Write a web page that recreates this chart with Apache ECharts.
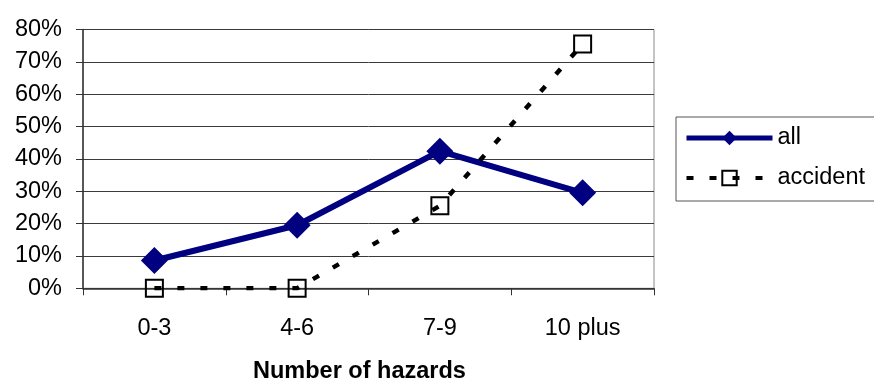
<!DOCTYPE html>
<html>
<head>
<meta charset="utf-8">
<script src="https://cdn.jsdelivr.net/npm/echarts@6/dist/echarts.min.js"></script>
<style>
  html, body { margin: 0; padding: 0; background: #fff; }
  #chart { width: 874px; height: 383px; }
</style>
</head>
<body>
<div id="chart"></div>
<script>
// Share of cases by number of hazards
const categories = ['0-3', '4-6', '7-9', '10 plus'];
const allValues = [0.086, 0.195, 0.424, 0.295];
const accidentValues = [0.0, 0.0, 0.255, 0.755];
const yTicks = [0, 0.1, 0.2, 0.3, 0.4, 0.5, 0.6, 0.7, 0.8];
const xTitle = 'Number of hazards';

const FONT = '"Liberation Sans", Arial, sans-serif';
const FS = 23.5;
const chart = echarts.init(document.getElementById('chart'));

chart.setOption({
  animation: false,
  backgroundColor: '#fff',
  textStyle: { fontFamily: FONT },
  grid: {
    left: 83, right: 220, top: 29.5, bottom: 94.7,
    show: true, borderColor: '#8a8a8a', borderWidth: 1, backgroundColor: 'transparent'
  },
  legend: {
    orient: 'vertical',
    left: 676, top: 117,
    padding: [9, 60, 11, 8],
    itemGap: 16,
    itemWidth: 86,
    itemHeight: 18,
    borderColor: '#555', borderWidth: 1,
    backgroundColor: '#fff',
    textStyle: { fontFamily: FONT, fontSize: FS, color: '#000', lineHeight: 24 },
    data: [
      { name: 'all', lineStyle: { width: 5 } },
      { name: 'accident', lineStyle: { width: 4 } }
    ]
  },
  xAxis: {
    type: 'category',
    data: categories,
    boundaryGap: true,
    axisLine: { lineStyle: { color: '#333', width: 1.5 } },
    axisTick: { show: true, length: 7, alignWithLabel: false, lineStyle: { color: '#333' } },
    axisLabel: { margin: 28, fontSize: FS, color: '#000', fontFamily: FONT },
    splitLine: { show: false }
  },
  yAxis: {
    type: 'value',
    min: 0, max: 0.8, interval: 0.1,
    axisLine: { show: true, lineStyle: { color: '#333', width: 1.5 } },
    axisTick: { show: true, length: 7, lineStyle: { color: '#333' } },
    axisLabel: {
      margin: 21, fontSize: FS, color: '#000', fontFamily: FONT,
      formatter: v => {
        const t = yTicks.find(y => Math.abs(y - v) < 1e-9);
        return t === undefined ? '' : Math.round(t * 100) + '%';
      }
    },
    splitLine: { show: true, lineStyle: { color: '#3a3a3a', width: 1 } }
  },
  graphic: [{
    type: 'text',
    left: 359 - 106, top: 360,
    style: {
      text: xTitle,
      font: 'bold 23.5px ' + FONT,
      fill: '#000'
    }
  }],
  series: [
    {
      name: 'all',
      type: 'line',
      data: allValues,
      symbol: 'diamond',
      symbolSize: 27,
      z: 2,
      lineStyle: { color: '#000080', width: 6 },
      itemStyle: { color: '#000080' }
    },
    {
      name: 'accident',
      type: 'line',
      data: accidentValues,
      symbol: 'rect',
      symbolSize: 17,
      z: 3,
      lineStyle: { color: '#000', width: 4.5, type: [7, 16] },
      itemStyle: { color: 'rgba(255,255,255,0)', borderColor: '#000', borderWidth: 2 }
    }
  ]
});
</script>
</body>
</html>
